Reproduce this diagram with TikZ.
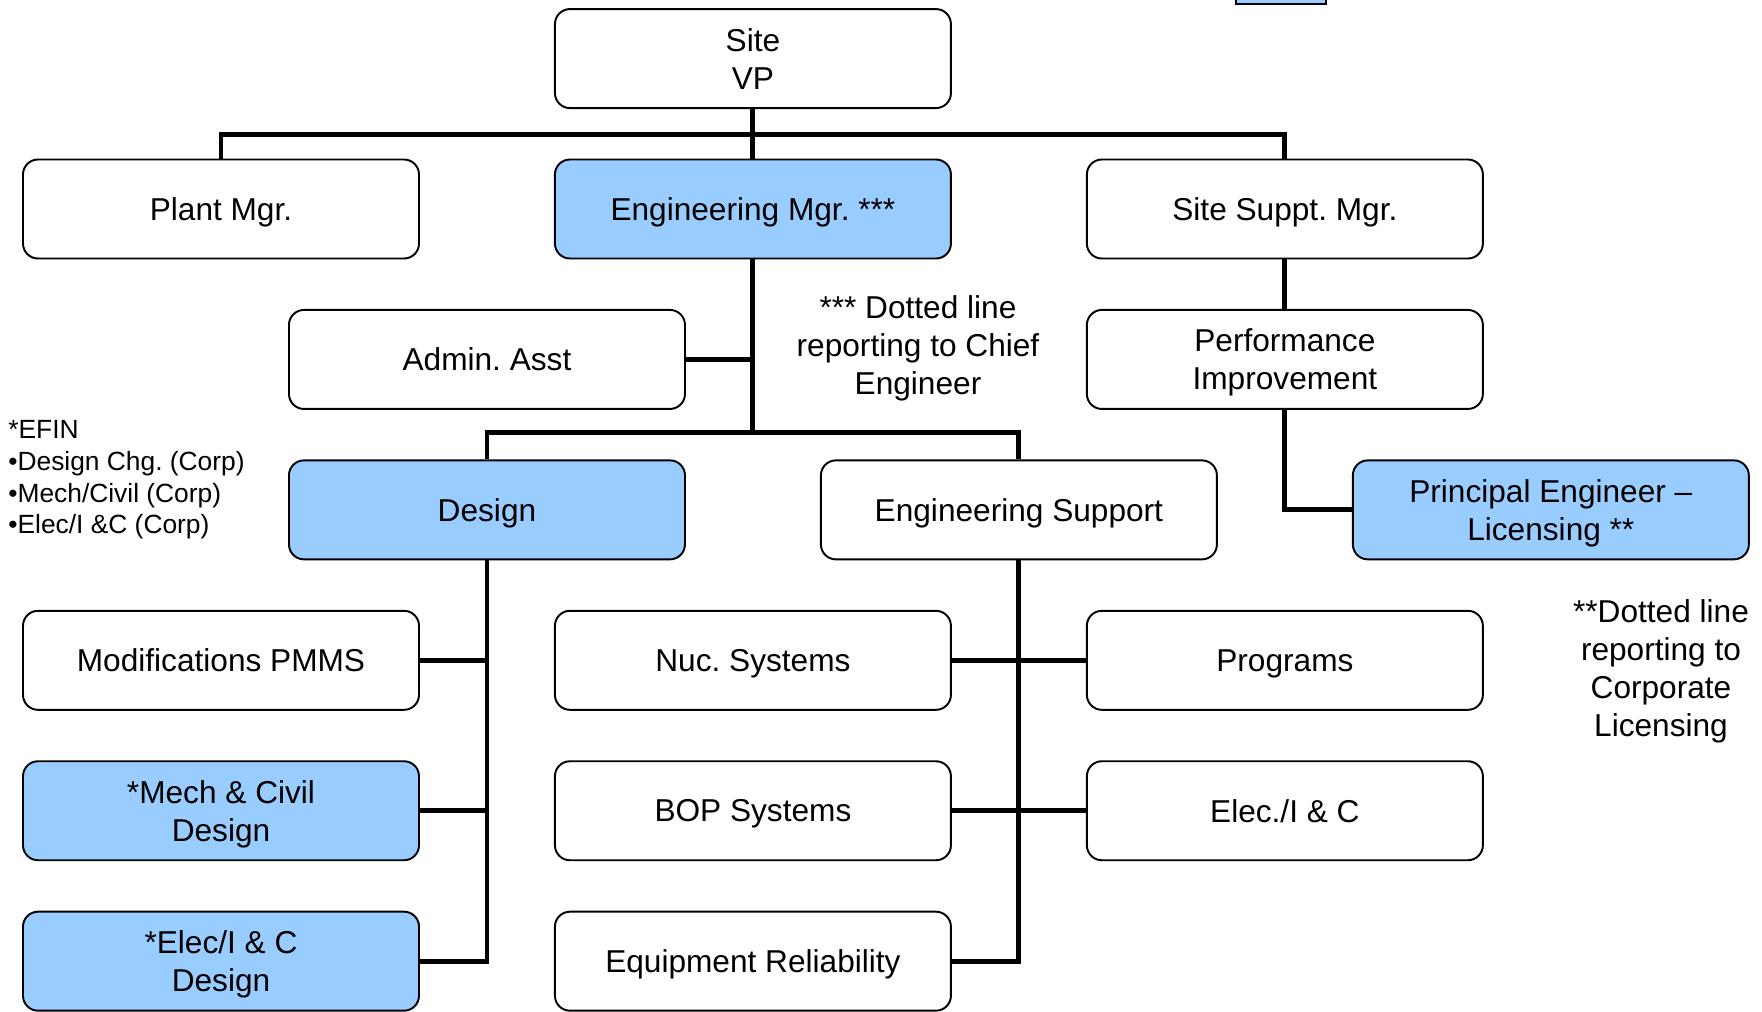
\documentclass[tikz,border=0pt]{standalone}
\usepackage{fontspec}
\setmainfont{Liberation Sans}
\frenchspacing
\usetikzlibrary{positioning}
\definecolor{boxblue}{HTML}{99CCFF}

\begin{document}
\begin{tikzpicture}[
    box/.style={draw, line width=1.1pt, rounded corners=0.3cm, minimum width=7.92cm, minimum height=1.98cm, inner sep=0pt, text depth=0pt, align=center, font=\fontsize{18}{21.6}\selectfont},
    bluebox/.style={box, fill=boxblue},
    conn/.style={line width=2.8pt},
    note/.style={align=center, font=\fontsize{18}{21.6}\selectfont}
    ]
    \useasboundingbox (0,0) rectangle (35.24,-20.22);
    \node[draw, line width=1.1pt, fill=boxblue, minimum width=1.8cm, minimum height=1cm, anchor=south west] (legendkey) at (24.7,-0.1) {};

    \node[box] (plant) at (4.42,-4.18) {Plant Mgr.};
    \node[bluebox, right=2.68cm of plant] (eng) {Engineering Mgr. ***};
    \node[box, right=2.68cm of eng] (suppt) {Site Suppt. Mgr.};
    \node[box, above=0.99cm of eng] (vp) {Site\\VP};

    \node[box, below right=0.99cm and 1.34cm of plant.south] (admin) {Admin. Asst};
    \node[box, below=0.99cm of suppt] (perf) {Performance\\Improvement};

    \node[bluebox, below=0.99cm of admin] (design) {Design};
    \node[box, right=2.68cm of design] (engsup) {Engineering Support};
    \node[bluebox, right=2.68cm of engsup] (princ) {Principal Engineer --\\Licensing **};

    \node[box, below left=0.99cm and 1.34cm of design.south] (mod) {Modifications PMMS};
    \node[box, right=2.68cm of mod] (nuc) {Nuc. Systems};
    \node[box, right=2.68cm of nuc] (prog) {Programs};

    \node[bluebox, below=0.99cm of mod] (mech) {*Mech \& Civil\\Design};
    \node[box, below=0.99cm of nuc] (bop) {BOP Systems};
    \node[box, below=0.99cm of prog] (elec) {Elec./I \& C};

    \node[bluebox, below=0.99cm of mech] (elecd) {*Elec/I \& C\\Design};
    \node[box, below=0.99cm of bop] (equip) {Equipment Reliability};

    \node[note] (chiefnote) at (18.36,-6.97) {*** Dotted line\\reporting to Chief\\Engineer};
    \node[note] (licnote) at (33.22,-13.42) {**Dotted line\\reporting to\\Corporate\\Licensing};
    \node[anchor=west, align=left, inner sep=0pt, font=\fontsize{15}{18}\selectfont] (efinnote) at (0.16,-9.6) {*EFIN\\•Design Chg. (Corp)\\•Mech/Civil (Corp)\\•Elec/I \&C (Corp)};

    \path (vp.south) ++(0,-0.5) coordinate (vpbus);
    \draw[conn] (vp) -- (eng);
    \draw[conn] (plant.north) |- (vpbus) -| (suppt.north);
    \draw[conn] (admin.east) -- (admin.east -| eng.south);
    \path (design.north) ++(0,0.54) coordinate (engbus);
    \draw[conn] (eng.south) -- (eng.south |- engbus);
    \draw[conn] (design.north) |- (engbus) -| (engsup.north);
    \draw[conn] (suppt) -- (perf);
    \draw[conn] (perf.south) |- (princ.west);
    \foreach \n in {mod,mech,elecd}
        \draw[conn] (\n.east) -| (design.south);
    \foreach \n in {nuc,bop,equip}
        \draw[conn] (\n.east) -| (engsup.south);
    \foreach \n in {prog,elec}
        \draw[conn] (\n.west) -| (engsup.south);
\end{tikzpicture}
\end{document}
